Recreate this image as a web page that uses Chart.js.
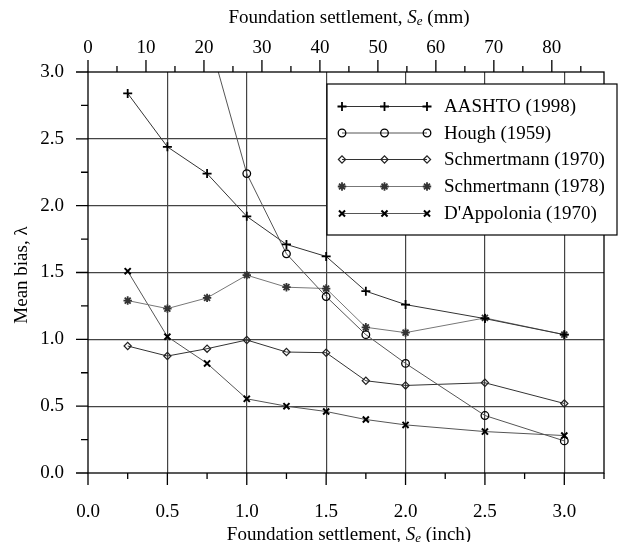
<!DOCTYPE html>
<html>
<head>
<meta charset="utf-8">
<script src="https://cdn.jsdelivr.net/npm/chart.js@4.4.0/dist/chart.umd.min.js"></script>
<style>
  html, body { margin: 0; padding: 0; background: #fff; }
  #wrap { width: 632px; height: 542px; }
</style>
</head>
<body>
<div id="wrap"><canvas id="chart" width="632" height="542"></canvas></div>
<script>
// settlement values (inch) shared by every series
const settlementInch = [0.25, 0.5, 0.75, 1.0, 1.25, 1.5, 1.75, 2.0, 2.5, 3.0];

// mean bias
const aashto1998 = [2.84, 2.44, 2.24, 1.92, 1.71, 1.62, 1.36, 1.26, 1.155, 1.035];
const hough1959 = [null, null, 3.30, 2.24, 1.64, 1.32, 1.035, 0.82, 0.43, 0.24];
const schmertmann1970 = [0.95, 0.875, 0.93, 0.995, 0.905, 0.90, 0.69, 0.655, 0.675, 0.52];
const schmertmann1978 = [1.29, 1.23, 1.31, 1.48, 1.39, 1.38, 1.09, 1.05, 1.16, 1.035];
const dappolonia1970 = [1.51, 1.02, 0.82, 0.555, 0.50, 0.46, 0.40, 0.36, 0.31, 0.28];

const seriesNames = ["AASHTO (1998)", "Hough (1959)", "Schmertmann (1970)", "Schmertmann (1978)", "D'Appolonia (1970)"];

// tick labels
const inchTicks = ["0.0", "0.5", "1.0", "1.5", "2.0", "2.5", "3.0"];
const mmTicks = ["0", "10", "20", "30", "40", "50", "60", "70", "80"];
const biasTicks = ["0.0", "0.5", "1.0", "1.5", "2.0", "2.5", "3.0"];

const SERIF = "'Liberation Serif', 'Times New Roman', serif";
const FONT_PX = 19;

const toPoints = (vals) => settlementInch.map((x, i) => ({ x: x, y: vals[i] }));
const isHalf = (v) => Math.abs(v * 2 - Math.round(v * 2)) < 1e-6;

const styles = [
  { pointStyle: "cross", radius: 4.5, borderWidth: 1.8, line: "#333", mark: "#000", fill: "transparent" },
  { pointStyle: "circle", radius: 3.8, borderWidth: 1.3, line: "#555", mark: "#000", fill: "transparent" },
  { pointStyle: "rectRot", radius: 3.6, borderWidth: 1.2, line: "#333", mark: "#222", fill: "transparent" },
  { pointStyle: "star", radius: 4.2, borderWidth: 1.8, line: "#777", mark: "#333", fill: "#333" },
  { pointStyle: "crossRot", radius: 4.3, borderWidth: 2, line: "#555", mark: "#000", fill: "transparent" }
];

const seriesValues = [aashto1998, hough1959, schmertmann1970, schmertmann1978, dappolonia1970];

const datasets = seriesValues.map((vals, i) => ({
  label: seriesNames[i],
  data: toPoints(vals),
  borderColor: styles[i].line,
  borderWidth: 1,
  pointStyle: styles[i].pointStyle,
  pointRadius: styles[i].radius,
  pointBorderWidth: styles[i].borderWidth,
  pointBorderColor: styles[i].mark,
  pointBackgroundColor: styles[i].fill,
  spanGaps: false,
  tension: 0
}));

// draws "Foundation settlement, Se (unit)" with italic S and subscript e
function drawSettlementTitle(ctx, cx, cy, unit) {
  const parts = [
    { t: "Foundation settlement, ", f: FONT_PX + "px " + SERIF, dy: 0 },
    { t: "S", f: "italic " + FONT_PX + "px " + SERIF, dy: 0 },
    { t: "e", f: "italic 13px " + SERIF, dy: 4 },
    { t: " (" + unit + ")", f: FONT_PX + "px " + SERIF, dy: 0 }
  ];
  let total = 0;
  parts.forEach(p => { ctx.font = p.f; p.w = ctx.measureText(p.t).width; total += p.w; });
  let x = cx - total / 2;
  ctx.textBaseline = "middle";
  ctx.textAlign = "left";
  parts.forEach(p => { ctx.font = p.f; ctx.fillText(p.t, x, cy + p.dy); x += p.w; });
}

function drawMarker(ctx, st, x, y) {
  ctx.save();
  ctx.strokeStyle = st.mark;
  ctx.fillStyle = st.fill;
  ctx.lineWidth = st.borderWidth;
  if (Chart.helpers && Chart.helpers.drawPoint) {
    Chart.helpers.drawPoint(ctx, { pointStyle: st.pointStyle, radius: st.radius, borderWidth: st.borderWidth, rotation: 0 }, x, y);
  }
  ctx.restore();
}

const framePlugin = {
  id: "frame",
  afterDraw(chart) {
    const ctx = chart.ctx;
    const a = chart.chartArea;
    const sx = chart.scales.x, sy = chart.scales.y, st = chart.scales.x2;
    ctx.save();
    ctx.strokeStyle = "#000";
    ctx.lineWidth = 1.3;
    ctx.strokeRect(a.left, a.top, a.right - a.left, a.bottom - a.top);

    ctx.beginPath();
    // bottom ticks (inch)
    for (let v = 0; v <= 3.25 + 1e-9; v += 0.25) {
      const px = sx.getPixelForValue(v);
      ctx.moveTo(px, a.bottom);
      ctx.lineTo(px, a.bottom + (isHalf(v) ? 12 : 6));
    }
    // left ticks
    for (let v = 0; v <= 3 + 1e-9; v += 0.25) {
      const py = sy.getPixelForValue(v);
      ctx.moveTo(a.left, py);
      ctx.lineTo(a.left - (isHalf(v) ? 12 : 7), py);
    }
    // top ticks (mm)
    for (let v = 0; v <= 85; v += 5) {
      const px = st.getPixelForValue(v);
      ctx.moveTo(px, a.top);
      ctx.lineTo(px, a.top - (v % 10 === 0 ? 12 : 6));
    }
    ctx.stroke();

    // axis titles
    ctx.fillStyle = "#000";
    drawSettlementTitle(ctx, 349, 18, "mm");
    drawSettlementTitle(ctx, 349, 535, "inch");
    ctx.save();
    ctx.translate(22, 275);
    ctx.rotate(-Math.PI / 2);
    ctx.font = FONT_PX + "px " + SERIF;
    ctx.textAlign = "center";
    ctx.textBaseline = "middle";
    ctx.fillText("Mean bias, \u03bb", 0, 0);
    ctx.restore();

    // legend box
    const bx = 327, by = 84, bw = 290, bh = 151;
    ctx.fillStyle = "#fff";
    ctx.fillRect(bx, by, bw, bh);
    ctx.lineWidth = 1.2;
    ctx.strokeStyle = "#000";
    ctx.strokeRect(bx, by, bw, bh);
    const rowY = [106.5, 133, 159.5, 186.5, 213.5];
    const markX = [342, 384.5, 427];
    seriesNames.forEach((name, i) => {
      const y = rowY[i];
      ctx.beginPath();
      ctx.strokeStyle = styles[i].line;
      ctx.lineWidth = 1;
      ctx.moveTo(markX[0], y);
      ctx.lineTo(markX[2], y);
      ctx.stroke();
      markX.forEach(mx => drawMarker(ctx, styles[i], mx, y));
      ctx.fillStyle = "#000";
      ctx.font = FONT_PX + "px " + SERIF;
      ctx.textAlign = "left";
      ctx.textBaseline = "middle";
      ctx.fillText(name, 444, y + 1);
    });
    ctx.restore();
  }
};

new Chart(document.getElementById("chart"), {
  type: "line",
  data: { datasets: datasets },
  options: {
    responsive: false,
    animation: false,
    layout: { padding: { left: 0, right: 4, top: 0, bottom: 0 } },
    plugins: { legend: { display: false }, tooltip: { enabled: false } },
    scales: {
      x: {
        type: "linear",
        position: "bottom",
        min: 0,
        max: 3.25,
        afterFit: (s) => { s.height = 69; },
        border: { display: false },
        grid: {
          drawTicks: false,
          lineWidth: 1.2,
          color: (c) => (isHalf(c.tick.value) && c.tick.value > 0 ? "#444" : "transparent")
        },
        ticks: {
          stepSize: 0.25,
          autoSkip: false,
          maxRotation: 0,
          padding: 28,
          color: "#000",
          font: { family: SERIF, size: FONT_PX },
          callback: (v) => (isHalf(v) ? inchTicks[Math.round(v * 2)] : "")
        }
      },
      x2: {
        type: "linear",
        position: "top",
        min: 0,
        max: 89,
        afterFit: (s) => { s.height = 72; },
        border: { display: false },
        grid: { drawOnChartArea: false, drawTicks: false },
        ticks: {
          stepSize: 5,
          autoSkip: false,
          maxRotation: 0,
          padding: 13,
          color: "#000",
          font: { family: SERIF, size: FONT_PX },
          callback: (v) => (v % 10 === 0 && v <= 80 ? mmTicks[v / 10] : "")
        }
      },
      y: {
        min: 0,
        max: 3,
        afterFit: (s) => { s.width = 88; },
        border: { display: false },
        grid: {
          drawTicks: false,
          lineWidth: 1.2,
          color: (c) => (isHalf(c.tick.value) && c.tick.value > 0 && c.tick.value < 3 ? "#444" : "transparent")
        },
        ticks: {
          stepSize: 0.25,
          autoSkip: false,
          padding: 24,
          color: "#000",
          font: { family: SERIF, size: FONT_PX },
          callback: (v) => (isHalf(v) ? biasTicks[Math.round(v * 2)] : "")
        }
      }
    }
  },
  plugins: [framePlugin]
});
</script>
</body>
</html>
